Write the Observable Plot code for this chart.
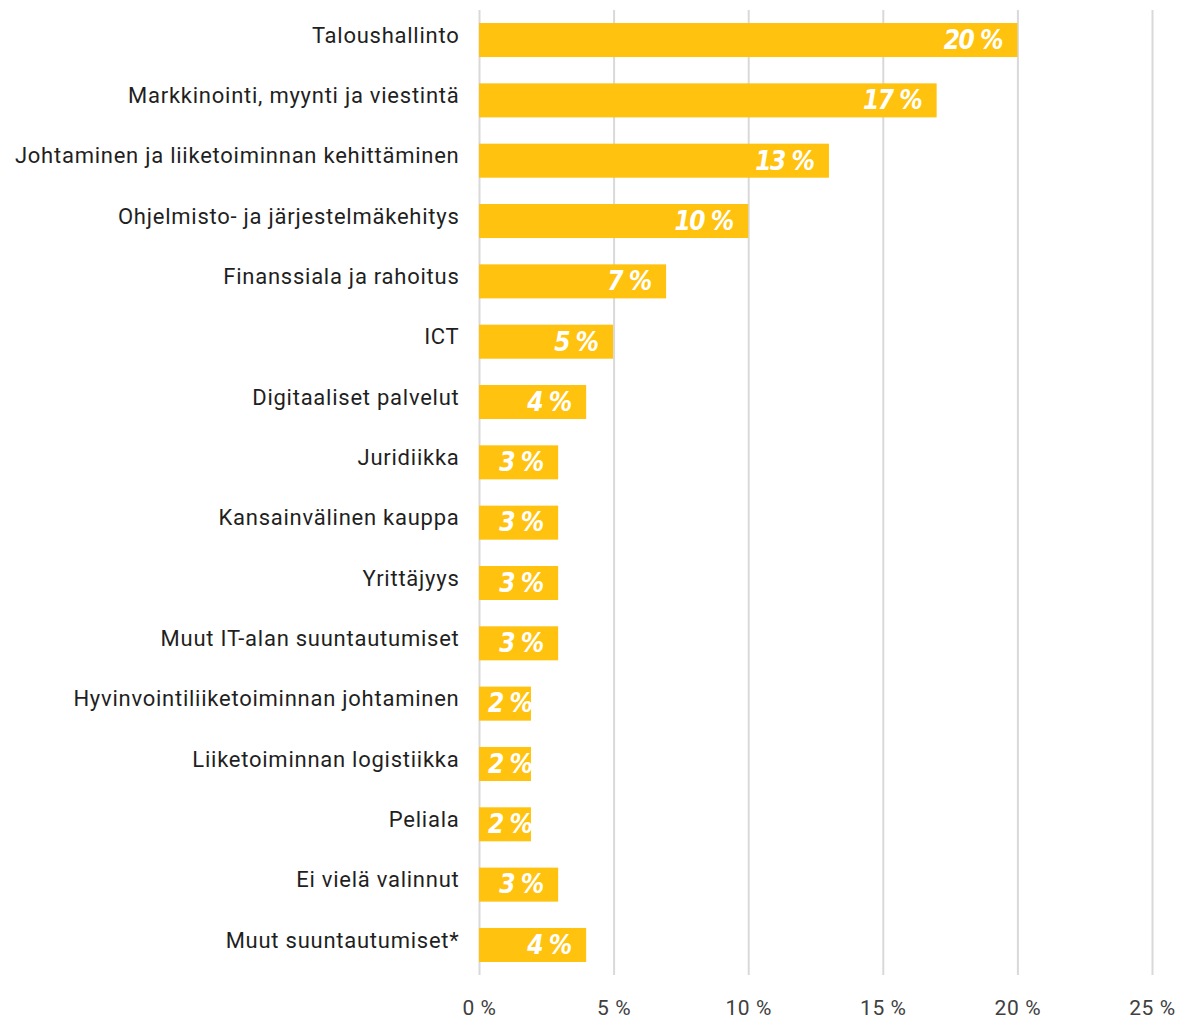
<!DOCTYPE html>
<html>
<head>
<meta charset="utf-8">
<script src="https://cdn.jsdelivr.net/npm/d3@7"></script>
<script src="https://cdn.jsdelivr.net/npm/@observablehq/plot@0.6"></script>
<style>
  html, body { margin: 0; padding: 0; background: #fff; }
  #chart svg { display: block; }
  #chart g[aria-label="text"] text { font-stretch: condensed; letter-spacing: -1.5px; }
  #chart g[aria-label="y-axis tick label"] text { letter-spacing: 0.75px; }
  #chart g[aria-label="x-axis tick label"] text { letter-spacing: 0.6px; }
</style>
</head>
<body>
<div id="chart"></div>
<script>
const categories = [
  "Taloushallinto",
  "Markkinointi, myynti ja viestintä",
  "Johtaminen ja liiketoiminnan kehittäminen",
  "Ohjelmisto- ja järjestelmäkehitys",
  "Finanssiala ja rahoitus",
  "ICT",
  "Digitaaliset palvelut",
  "Juridiikka",
  "Kansainvälinen kauppa",
  "Yrittäjyys",
  "Muut IT-alan suuntautumiset",
  "Hyvinvointiliiketoiminnan johtaminen",
  "Liiketoiminnan logistiikka",
  "Peliala",
  "Ei vielä valinnut",
  "Muut suuntautumiset*"
];
const values = [20, 17, 13, 10, 6.95, 4.98, 3.98, 2.94, 2.94, 2.94, 2.94, 1.93, 1.93, 1.93, 2.94, 3.98];
const xTicks = [0, 5, 10, 15, 20, 25];

const data = categories.map((c, i) => ({category: c, value: values[i], label: Math.round(values[i]) + " %"}));
const labelFont = "'DejaVu Sans Condensed', 'DejaVu Sans', sans-serif";

const chart = Plot.plot({
  width: 1184,
  height: 1019,
  marginLeft: 479,
  marginRight: 32,
  marginTop: 10,
  marginBottom: 44,
  style: {fontFamily: "Roboto, sans-serif", fontSize: "22px", color: "#1f1f1f", background: "#fff"},
  x: {domain: [0, 25], ticks: xTicks, tickFormat: d => d + " %", label: null},
  y: {domain: categories, label: null, paddingInner: 0.436, paddingOuter: 0.216, round: false},
  marks: [
    Plot.gridX(xTicks, {stroke: "#d9d9d9", strokeOpacity: 1, strokeWidth: 2}),
    Plot.barX(data, {x: "value", y: "category", fill: "#FFC20E"}),
    Plot.text(data.filter(d => d.value >= 2.5), {
      x: "value", y: "category", text: "label", textAnchor: "end", dx: -16, dy: 0,
      fill: "#fff", fontSize: 26, fontWeight: "bold", fontStyle: "italic", fontFamily: labelFont
    }),
    Plot.text(data.filter(d => d.value < 2.5), {
      x: "value", y: "category", text: "label", textAnchor: "end", dx: 0, dy: 0,
      fill: "#fff", fontSize: 26, fontWeight: "bold", fontStyle: "italic", fontFamily: labelFont
    }),
    Plot.axisX({ticks: xTicks, tickSize: 0, tickPadding: 25, tickFormat: d => d + " %", fill: "#404040", fontSize: 21, label: null}),
    Plot.axisY({tickSize: 0, tickPadding: 20, dy: -5, fill: "#1f1f1f", fontSize: 22, label: null})
  ]
});
document.getElementById("chart").append(chart);
</script>
</body>
</html>
